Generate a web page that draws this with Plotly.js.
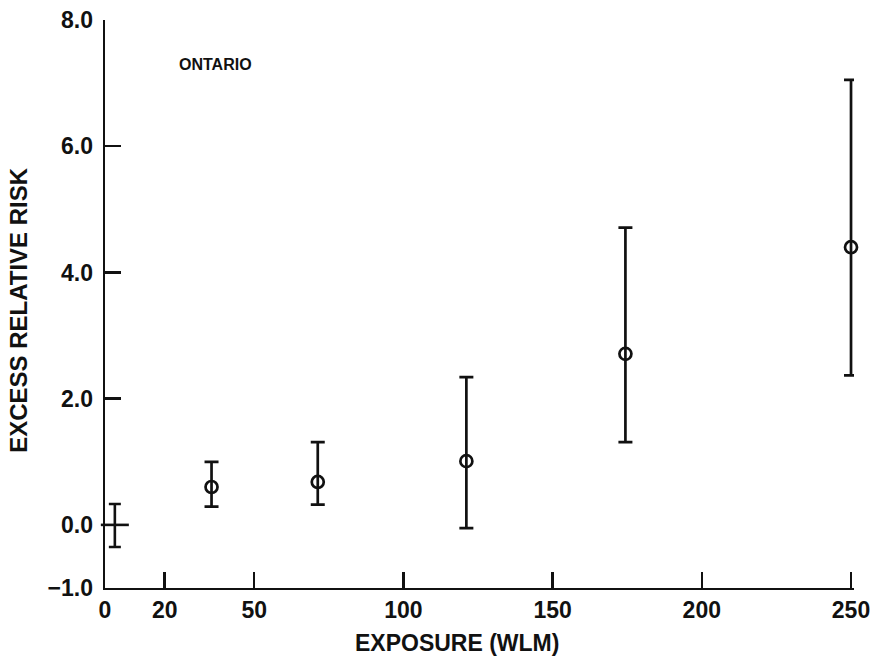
<!DOCTYPE html>
<html>
<head>
<meta charset="utf-8">
<script src="https://cdn.plot.ly/plotly-3.0.1.min.js"></script>
<style>html,body{margin:0;padding:0;background:#fff;}#chart{width:874px;height:656px;}</style>
</head>
<body>
<div id="chart"></div>
<script>
// Data
const exposure = [3.3, 35.7, 71.3, 121.1, 174.4, 250];
const excessRR = [0.0, 0.60, 0.68, 1.01, 2.71, 4.40];
const upperCI  = [0.33, 1.00, 1.31, 2.34, 4.71, 7.05];
const lowerCI  = [-0.35, 0.29, 0.32, -0.05, 1.31, 2.37];
const xTicks = [0, 20, 50, 100, 150, 200, 250];
const yTicks = [-1, 0, 2, 4, 6, 8];
const regionLabel = 'ONTARIO';
const xTitle = 'EXPOSURE (WLM)';
const yTitle = 'EXCESS RELATIVE RISK';

const errPlus = upperCI.map((u, i) => u - excessRR[i]);
const errMinus = lowerCI.map((l, i) => excessRR[i] - l);

const FAM = '"Liberation Sans", Arial, Helvetica, sans-serif';
const INK = '#111';

const traces = [
  {
    // reference category (first point): drawn as a horizontal dash
    x: exposure.slice(0, 1), y: excessRR.slice(0, 1),
    type: 'scatter', mode: 'markers', cliponaxis: false,
    marker: {symbol: 'line-ew-open', size: 20, color: INK, line: {width: 2.6, color: INK}},
    error_y: {type: 'data', symmetric: false, array: errPlus.slice(0, 1), arrayminus: errMinus.slice(0, 1),
              color: INK, thickness: 2.6, width: 6},
    showlegend: false, hoverinfo: 'skip'
  },
  {
    x: exposure.slice(1), y: excessRR.slice(1),
    type: 'scatter', mode: 'markers', cliponaxis: false,
    marker: {symbol: 'circle-open', size: 12, color: INK, line: {width: 2.7, color: INK}},
    error_y: {type: 'data', symmetric: false, array: errPlus.slice(1), arrayminus: errMinus.slice(1),
              color: INK, thickness: 2.7, width: 7},
    showlegend: false, hoverinfo: 'skip'
  }
];

const tickFont = {family: FAM, size: 23, color: INK, weight: 'bold'};

const layout = {
  width: 874, height: 656,
  paper_bgcolor: '#fff', plot_bgcolor: '#fff',
  margin: {l: 105, r: 20, t: 20, b: 68, pad: 0},
  font: {family: FAM, color: INK},
  showlegend: false,
  xaxis: {
    range: [0, 251], autorange: false,
    tickvals: xTicks, ticktext: xTicks.map(String),
    ticks: 'inside', ticklen: 16, tickwidth: 2.4, tickcolor: INK,
    showline: true, linewidth: 2.4, linecolor: INK,
    showgrid: false, zeroline: false,
    tickfont: tickFont,
    ticklabelstandoff: 0,
    automargin: false
  },
  yaxis: {
    range: [-1, 8], autorange: false,
    tickvals: yTicks, tickformat: '.1f',
    ticks: 'inside', ticklen: 16, tickwidth: 2.4, tickcolor: INK,
    showline: true, linewidth: 2.4, linecolor: INK,
    showgrid: false, zeroline: false,
    tickfont: tickFont,
    ticklabelstandoff: 5,
    automargin: false
  },
  annotations: [
    {
      text: '<b>' + regionLabel + '</b>', x: 24.2, y: 7.29, xref: 'x', yref: 'y',
      xanchor: 'left', yanchor: 'middle',
      showarrow: false, font: {family: FAM, size: 16, color: INK}
    },
    {
      text: '<b>' + xTitle + '</b>', x: 0.4705, y: -0.097, xref: 'paper', yref: 'paper',
      xanchor: 'center', yanchor: 'middle',
      showarrow: false, font: {family: FAM, size: 23, color: INK}
    },
    {
      text: '<b>' + yTitle + '</b>', x: -0.1146, y: 0.49, xref: 'paper', yref: 'paper',
      xanchor: 'center', yanchor: 'middle', textangle: -90,
      showarrow: false, font: {family: FAM, size: 24, color: INK}
    }
  ]
};

Plotly.newPlot('chart', traces, layout, {displayModeBar: false, staticPlot: true});
</script>
</body>
</html>
